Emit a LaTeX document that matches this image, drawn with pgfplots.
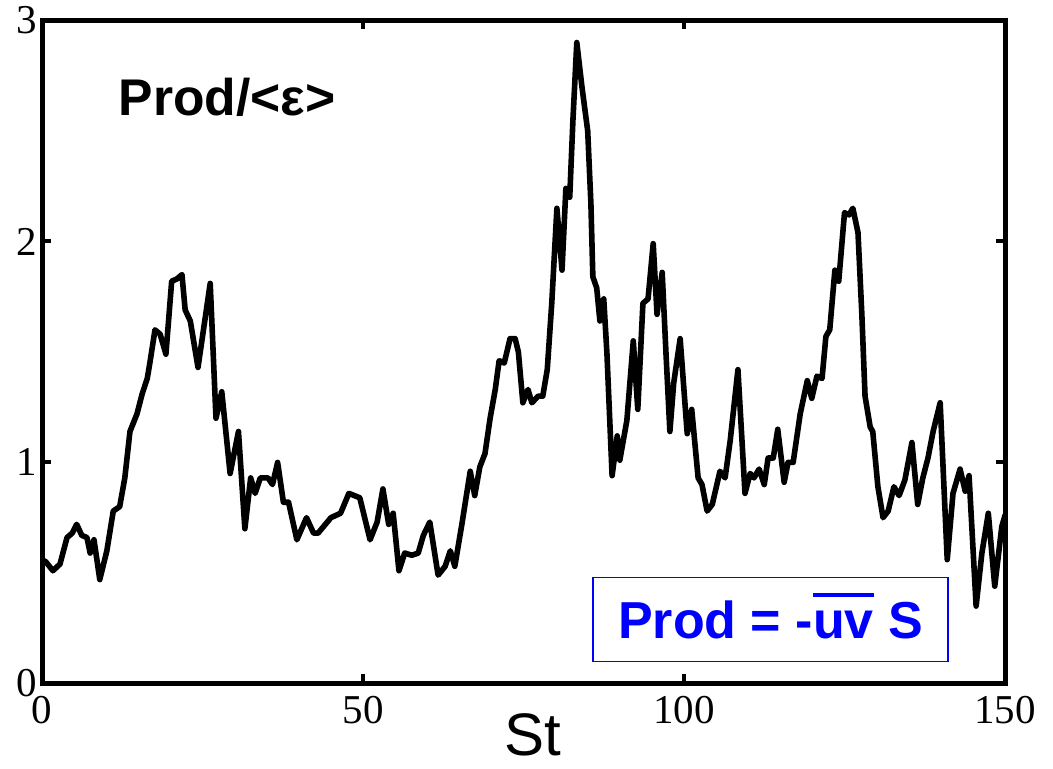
\documentclass[border=0pt]{standalone}
\usepackage{fontspec}
\setmainfont{Liberation Serif}
\newfontfamily\hv{Liberation Sans}
\usepackage{pgfplots}
\pgfplotsset{compat=1.18}
\definecolor{pblue}{RGB}{0,0,255}
% overline drawn as a rule above a box
\newcommand{\ovl}[1]{\leavevmode\vbox{\hrule height 1.6pt\kern 7pt\hbox{#1}}}
\begin{document}
\begin{tikzpicture}
\path (-21pt,-42.5pt) rectangle (505.5pt,341.5pt);
\begin{axis}[
  scale only axis, width=481.5pt, height=331.5pt,
  xmin=0, xmax=150, ymin=0, ymax=3,
  xtick={0,50,100,150}, ytick={0,1,2,3},
  tick align=inside, xtick pos=both, ytick pos=both,
  major tick length=4.5pt,
  every tick/.style={black, line width=2pt},
  axis line style={line width=2.5pt},
  ticklabel style={font=\fontsize{20.5}{24}\selectfont},
  /pgf/number format/assume math mode=true,
  yticklabel style={xshift=0.8pt},
  xticklabel style={yshift=-3pt},
  xlabel={St},
  xlabel style={font=\hv\fontsize{30}{36}\selectfont, at={(axis description cs:0.51,0)}, anchor=base, yshift=-36pt},
]
\addplot[black, line width=2.8pt, line join=round, line cap=round] table {
x y
0 0.56
0.6 0.55
1.7 0.51
2.8 0.54
3.9 0.66
4.7 0.68
5.4 0.72
6.2 0.67
7.0 0.66
7.5 0.59
8.1 0.65
9.0 0.47
10.1 0.60
11.1 0.78
12.1 0.80
12.9 0.93
13.7 1.14
14.8 1.22
15.6 1.31
16.4 1.38
16.8 1.45
17.6 1.60
18.4 1.58
19.3 1.49
20.2 1.82
21.0 1.83
21.8 1.85
22.3 1.69
23.1 1.64
24.3 1.43
26.2 1.81
27.1 1.20
28.0 1.32
29.3 0.95
30.6 1.14
31.6 0.70
32.5 0.93
33.2 0.86
34.0 0.93
35.2 0.93
35.9 0.90
36.7 1.00
37.6 0.82
38.4 0.82
39.7 0.65
41.2 0.75
42.3 0.68
43.0 0.68
45.0 0.75
46.5 0.77
47.8 0.86
49.5 0.84
51.1 0.65
52.2 0.73
53.1 0.88
54.0 0.72
54.7 0.77
55.6 0.51
56.5 0.59
57.6 0.58
58.6 0.59
59.4 0.67
60.4 0.73
61.7 0.49
62.8 0.53
63.6 0.60
64.3 0.53
65.4 0.72
66.7 0.96
67.4 0.85
68.2 0.98
69.0 1.04
69.8 1.20
70.6 1.33
71.2 1.46
72.0 1.45
72.9 1.56
73.7 1.56
74.2 1.50
74.9 1.27
75.7 1.33
76.3 1.27
77.3 1.30
78.0 1.30
78.7 1.42
79.4 1.72
80.2 2.15
81.0 1.87
81.6 2.24
82.2 2.20
82.7 2.55
83.3 2.90
84.1 2.70
85.0 2.50
85.5 2.17
85.8 1.84
86.4 1.79
86.9 1.64
87.5 1.74
88.0 1.49
88.8 0.94
89.6 1.12
90.0 1.01
91.1 1.19
92.1 1.55
92.8 1.24
93.6 1.72
94.4 1.74
95.2 1.99
95.8 1.67
96.6 1.86
97.2 1.49
97.8 1.14
98.4 1.36
99.4 1.56
100.5 1.13
101.2 1.24
102.2 0.93
102.8 0.90
103.6 0.78
104.4 0.81
105.6 0.96
106.4 0.93
107.2 1.10
108.4 1.42
109.5 0.86
110.3 0.95
110.9 0.93
111.7 0.97
112.5 0.90
113.1 1.02
113.9 1.02
114.6 1.15
115.6 0.91
116.2 1.00
117.0 1.00
118.1 1.22
119.2 1.37
119.9 1.29
120.7 1.39
121.5 1.38
122.1 1.57
122.7 1.60
123.5 1.87
124.1 1.82
125.0 2.13
125.7 2.12
126.3 2.15
127.1 2.04
127.7 1.67
128.2 1.30
129.0 1.16
129.4 1.14
130.2 0.89
131.0 0.75
131.8 0.78
132.7 0.89
133.5 0.85
134.4 0.92
135.5 1.09
136.4 0.81
137.2 0.93
138.0 1.02
138.8 1.14
139.9 1.27
141.0 0.56
141.9 0.86
143.0 0.97
143.8 0.87
144.4 0.94
145.5 0.35
146.4 0.59
147.4 0.77
148.4 0.44
149.5 0.71
150 0.76
};
\node[anchor=base west, font=\hv\bfseries\fontsize{25.8}{30}\selectfont] at (rel axis cs:0.0725,0.8567) {Prod/<ε>};
\node[draw=pblue, line width=0.75pt, minimum width=177.5pt, minimum height=42pt,
      text height=18.6pt, text depth=0pt, inner sep=0pt, text=pblue,
      font=\hv\bfseries\fontsize{26}{30}\selectfont] at (rel axis cs:0.7565,0.0965) {Prod = -\ovl{uv} S};
\end{axis}
\end{tikzpicture}
\end{document}
